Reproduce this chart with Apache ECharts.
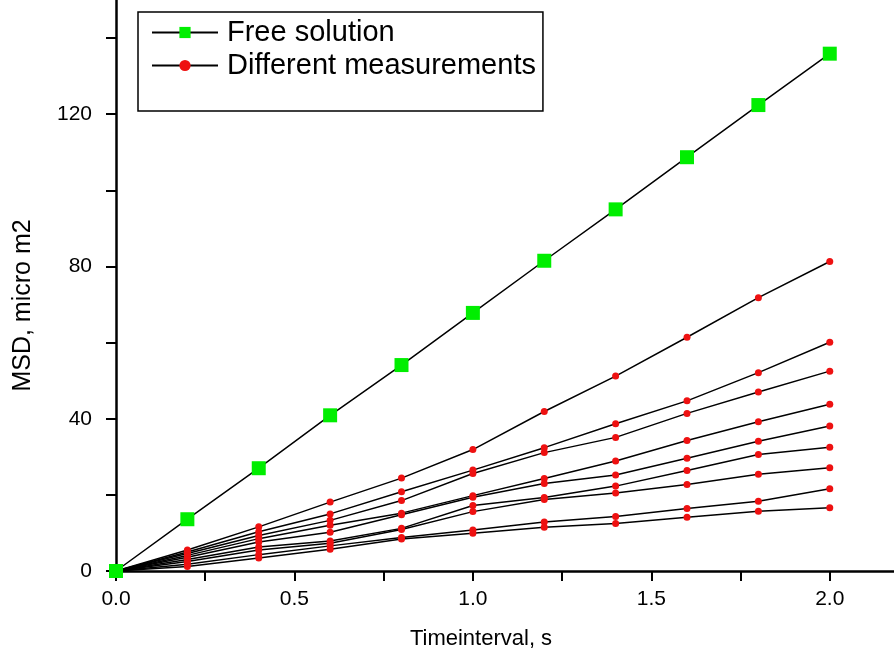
<!DOCTYPE html>
<html>
<head>
<meta charset="utf-8">
<script src="https://cdn.jsdelivr.net/npm/echarts@6/dist/echarts.min.js"></script>
<style>
  html, body { margin: 0; padding: 0; background: #fff; }
  #chart { width: 894px; height: 662px; }
</style>
</head>
<body>
<div id="chart"></div>
<script>
// time intervals, s
var times = [0, 0.2, 0.4, 0.6, 0.8, 1.0, 1.2, 1.4, 1.6, 1.8, 2.0];

// MSD free solution, micro m2
var freeSolution = [0, 13.6, 27.0, 40.9, 54.1, 67.8, 81.5, 95.0, 108.7, 122.4, 135.9];

// MSD different measurements (one array per measurement)
var meas1 = [0, 5.5, 11.6, 18.1, 24.4, 31.9, 41.9, 51.2, 61.4, 71.8, 81.3];
var meas2 = [0, 5.0, 10.3, 15.0, 20.8, 26.5, 32.4, 38.7, 44.7, 52.1, 60.1];
var meas3 = [0, 4.6, 9.3, 13.3, 18.5, 25.6, 31.1, 35.1, 41.4, 47.0, 52.5];
var meas4 = [0, 4.1, 8.5, 12.0, 15.2, 19.8, 24.3, 28.9, 34.3, 39.2, 43.8];
var meas5 = [0, 3.6, 7.6, 10.2, 14.8, 19.4, 23.0, 25.2, 29.6, 34.1, 38.1];
var meas6 = [0, 3.0, 6.3, 7.9, 11.2, 17.2, 19.3, 22.3, 26.4, 30.6, 32.5];
var meas7 = [0, 2.5, 5.5, 7.3, 10.9, 15.6, 18.8, 20.5, 22.7, 25.4, 27.1];
var meas8 = [0, 1.8, 4.3, 6.6, 8.8, 10.8, 12.9, 14.3, 16.4, 18.3, 21.6];
var meas9 = [0, 1.2, 3.4, 5.7, 8.4, 9.9, 11.5, 12.5, 14.1, 15.7, 16.6];
var measurements = [meas1, meas2, meas3, meas4, meas5, meas6, meas7, meas8, meas9];

// ticks and labels
var xTicks = [0, 0.25, 0.5, 0.75, 1.0, 1.25, 1.5, 1.75, 2.0];
var xLabels = [0, 0.5, 1.0, 1.5, 2.0];
var yTicks = [0, 20, 40, 60, 80, 100, 120, 140];
var yLabels = [0, 40, 80, 120];

var FONT = '"Liberation Sans", Arial, sans-serif';

function pairs(ys) {
  return times.map(function (t, i) { return [t, ys[i]]; });
}

var series = [{
  name: 'Free solution',
  type: 'line',
  data: pairs(freeSolution),
  symbol: 'rect',
  symbolSize: 14,
  showAllSymbol: true,
  lineStyle: { color: '#000', width: 1.5 },
  itemStyle: { color: '#00ee00' },
  z: 3
}];
measurements.forEach(function (m) {
  series.push({
    name: 'Different measurements',
    type: 'line',
    data: pairs(m),
    symbol: 'circle',
    symbolSize: 7,
    showAllSymbol: true,
    lineStyle: { color: '#000', width: 1.5 },
    itemStyle: { color: '#ee1111' },
    z: 2
  });
});

var chart = echarts.init(document.getElementById('chart'));
chart.setOption({
  animation: false,
  backgroundColor: '#fff',
  grid: { left: 116, right: 0, top: 0, bottom: 91, containLabel: false },
  legend: {
    left: 138,
    top: 12,
    orient: 'vertical',
    data: ['Free solution', 'Different measurements'],
    itemWidth: 66,
    itemHeight: 14,
    itemGap: 4,
    padding: [6, 7, 31, 13],
    borderColor: '#000',
    borderWidth: 1.5,
    textStyle: { fontFamily: FONT, fontSize: 29, color: '#000', padding: [0, 0, 0, 4] }
  },
  xAxis: {
    type: 'value',
    min: 0,
    max: 2.18,
    name: 'Timeinterval, s',
    nameLocation: 'middle',
    nameGap: 57,
    nameTextStyle: { fontFamily: FONT, fontSize: 22, color: '#000', padding: [0, 48, 0, 0] },
    splitLine: { show: false },
    axisLine: { onZero: false, lineStyle: { color: '#000', width: 2.5 } },
    axisTick: { inside: false, length: 10, lineStyle: { color: '#000', width: 2 }, customValues: xTicks },
    axisLabel: {
      fontFamily: FONT, fontSize: 21, color: '#000', margin: 18,
      customValues: xLabels,
      formatter: function (v) { return v.toFixed(1); }
    }
  },
  yAxis: {
    type: 'value',
    min: 0,
    max: 150,
    name: 'MSD, micro m2',
    nameLocation: 'middle',
    nameGap: 80,
    nameTextStyle: { fontFamily: FONT, fontSize: 25, color: '#000', padding: [0, 40, 0, 0] },
    splitLine: { show: false },
    axisLine: { onZero: false, lineStyle: { color: '#000', width: 2.5 } },
    axisTick: { inside: false, length: 10, lineStyle: { color: '#000', width: 2 }, customValues: yTicks },
    axisLabel: {
      fontFamily: FONT, fontSize: 21, color: '#000', margin: 24,
      customValues: yLabels
    }
  },
  series: series
});
</script>
</body>
</html>
